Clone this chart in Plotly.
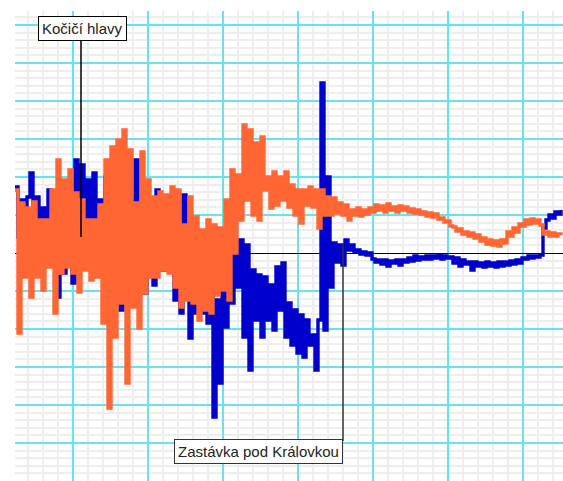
import plotly.graph_objects as go

# distance axis: one sample every 3 units
step = 3
blue_vals = [66, 16, 53, 8, 56, 80, 3, 56, 0, 45, 8, 63, 3, 61, -44, 38, -20, 23, -2, -30,
             93, 3, 88, -14, 73, 3, 80, 13, 53, 3, 76, 8, 53, -7, 43, -57, 33, -22, 53, -12,
             93, 3, 48, -40, 33, -7, -32, 63, 6, -17, 28, -2, 23, -47, 18, -60, 58, -17, -85, -10,
             -60, -17, -60, 16, -70, -30, -164, -47, -130, -37, -74, 16, -50, 13, -34, 13, -84, 8, -117, -17,
             -67, -22, -84, -24, -67, -32, -77, -14, -57, -10, -84, -50, -92, -57, -100, -62, -104, -67, -92, -82,
             -117, -67, 170, -77, 76, -34, 10, -9, 8, -12, 13, 3, 8, 1, 3, -1, 1, -2, 0, -6,
             -9, -7, -11, -7, -13, -8, -10, -7, -12, -7, -9, -5, -8, -3, -7, -4, -6, -3, -6, -3,
             -5, -2, -6, -3, -5, -4, -10, -5, -13, -7, -11, -9, -17, -9, -13, -10, -14, -9, -13, -10,
             -14, -9, -13, -9, -12, -8, -11, -7, -10, -5, -6, -3, -5, -3, -4, -2, 25, 33, 38, 35,
             41, 39, 43]
orange_vals = [63, -80, 50, -24, 45, -44, 51, -24, 33, -37, 33, -14, 63, -60, 93, -20, 73, -14, 83, -20,
               60, -39, 53, -17, 33, -27, 33, -24, 48, -70, 93, -155, 106, -84, 113, -50, 123, -130, 103, -54,
               50, -75, 101, -40, 73, -24, 56, -24, 61, -17, 58, -20, 66, -34, 63, -54, 28, -47, 56, -50,
               36, -67, 23, -57, 33, -60, 28, -42, 25, -37, 53, -47, 83, 0, 78, 33, 128, 53, 123, 38,
               110, 33, 116, 63, 76, 45, 81, 48, 76, 53, 81, 46, 68, 38, 63, 30, 63, 48, 66, 46,
               63, 25, 63, 38, 56, 38, 55, 40, 50, 38, 48, 33, 43, 38, 45, 37, 43, 39, 45, 41,
               48, 43, 47, 41, 49, 43, 46, 41, 47, 43, 46, 41, 44, 40, 43, 39, 41, 37, 40, 36,
               39, 34, 35, 31, 32, 27, 26, 22, 24, 19, 21, 17, 20, 15, 18, 12, 15, 9, 13, 8,
               12, 7, 13, 10, 21, 17, 25, 21, 29, 27, 33, 29, 34, 30, 33, 28, 19, 21, 17, 20,
               17, 19, 18]

x_blue = [i * step for i in range(len(blue_vals))]
x_orange = [i * step for i in range(len(orange_vals))]

label_top = "Kočičí hlavy"
label_bottom = "Zastávka pod Královkou"

fig = go.Figure()
fig.add_trace(go.Scatter(x=x_blue, y=blue_vals, mode="lines", line=dict(color="#0000cc", width=3.4, shape="hv"),
                         showlegend=False, hoverinfo="skip"))
fig.add_trace(go.Scatter(x=x_orange, y=orange_vals, mode="lines", line=dict(color="#ff6633", width=3.4, shape="hv"),
                         showlegend=False, hoverinfo="skip"))

# connector lines of the labels
fig.add_shape(type="line", x0=66, x1=66, y0=214, y1=16, line=dict(color="black", width=1.5), layer="above")
fig.add_shape(type="line", x0=328, x1=328, y0=-188, y1=10, line=dict(color="#333333", width=1.5), layer="above")

ann_font = dict(family="Liberation Sans, Arial, sans-serif", size=15, color="#222222")
fig.add_annotation(x=67.5, y=224.5, text=label_top, showarrow=False, font=ann_font,
                   bgcolor="white", bordercolor="black", borderwidth=1, borderpad=3,
                   xanchor="center", yanchor="middle")
fig.add_annotation(x=243, y=-198, text=label_bottom, showarrow=False, font=ann_font,
                   bgcolor="white", bordercolor="#333333", borderwidth=1, borderpad=3,
                   xanchor="center", yanchor="middle")

fig.update_xaxes(range=[0, 548], tick0=57.7, dtick=75.1, showgrid=True, gridcolor="#66e3ec", gridwidth=2,
                 showticklabels=False, ticks="", zeroline=False, showline=False,
                 minor=dict(tick0=57.7, dtick=15.02, showgrid=True, gridcolor="#eeeeee", gridwidth=2))
fig.update_yaxes(range=[-228, 242], tick0=0, dtick=38, showgrid=True, gridcolor="#66e3ec", gridwidth=2,
                 showticklabels=False, ticks="", zeroline=True, zerolinecolor="black", zerolinewidth=1,
                 showline=False,
                 minor=dict(tick0=0, dtick=7.6, showgrid=True, gridcolor="#eeeeee", gridwidth=2))

fig.update_layout(width=563, height=481, margin=dict(l=15, r=0, t=11, b=0),
                  plot_bgcolor="white", paper_bgcolor="white")

fig.write_html("out.html", config={"displayModeBar": False},
               post_script="document.body.style.margin='0px';document.body.style.padding='0px';"
                           "document.body.style.overflow='hidden';")
